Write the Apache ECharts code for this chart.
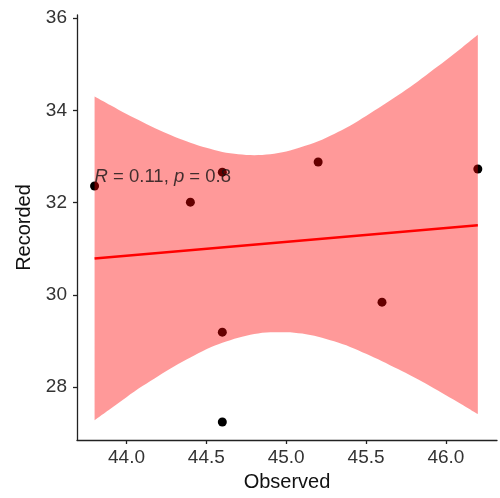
<!DOCTYPE html>
<html>
<head>
<meta charset="utf-8">
<script src="https://cdn.jsdelivr.net/npm/echarts@6/dist/echarts.min.js"></script>
<style>
  html, body { margin: 0; padding: 0; background: #fff; }
  #chart { width: 500px; height: 498px; }
</style>
</head>
<body>
<div id="chart"></div>
<script>
// 观测点
var observed = [43.8, 44.4, 44.6, 44.6, 44.6, 45.2, 45.6, 46.2];
var recorded = [32.36, 32.01, 32.66, 29.19, 27.24, 32.88, 29.84, 32.73];

// 回归线两端
var fitX = [43.8, 46.2];
var fitY = [30.79, 31.51];

// 置信带（从图上读出，每0.1一个点）
var bandX = [43.8, 43.9, 44.0, 44.1, 44.2, 44.3, 44.4, 44.5, 44.6, 44.7, 44.8, 44.9, 45.0,
             45.1, 45.2, 45.3, 45.4, 45.5, 45.6, 45.7, 45.8, 45.9, 46.0, 46.1, 46.2];
var bandLower = [27.28, 27.53, 27.78, 28.02, 28.24, 28.45, 28.64, 28.82, 28.96, 29.07, 29.15, 29.19, 29.19,
                 29.16, 29.09, 28.99, 28.87, 28.72, 28.56, 28.39, 28.21, 28.02, 27.82, 27.62, 27.41];
var bandUpper = [34.30, 34.11, 33.92, 33.75, 33.58, 33.43, 33.30, 33.19, 33.10, 33.05, 33.03, 33.05, 33.11,
                 33.21, 33.33, 33.49, 33.67, 33.88, 34.10, 34.33, 34.57, 34.83, 35.09, 35.36, 35.64];

var xTicks = [44.0, 44.5, 45.0, 45.5, 46.0];
var yTicks = [28, 30, 32, 34, 36];

var corText = ['R = 0.11', 'p = 0.8'];
var corPos = [43.8, 32.55];

var font = 'Liberation Sans, Arial, Helvetica, sans-serif';

// 堆叠时y放在第0维，这样堆的是y而不是x
var lowerData = bandX.map(function (x, i) { return [bandLower[i], x]; });
var widthData = bandX.map(function (x, i) { return [+(bandUpper[i] - bandLower[i]).toFixed(2), x]; });

var option = {
    animation: false,
    textStyle: { fontFamily: font },
    grid: { left: 77, top: 15, width: 420, height: 425 },
    xAxis: {
        type: 'value',
        min: 43.69,
        max: 46.32,
        name: 'Observed',
        nameLocation: 'middle',
        nameGap: 32,
        nameTextStyle: { fontSize: 20, color: '#111', fontFamily: font },
        splitLine: { show: false },
        axisLine: { lineStyle: { color: '#222', width: 1.3 } },
        axisTick: { customValues: xTicks, length: 4, lineStyle: { color: '#222', width: 1.3 } },
        axisLabel: {
            customValues: xTicks,
            fontSize: 19, color: '#333', margin: 8,
            formatter: function (v) { return v.toFixed(1); }
        }
    },
    yAxis: {
        type: 'value',
        min: 26.85,
        max: 36.07,
        name: 'Recorded',
        nameLocation: 'middle',
        nameGap: 38,
        nameTextStyle: { fontSize: 20, color: '#111', fontFamily: font },
        splitLine: { show: false },
        axisLine: { show: true, lineStyle: { color: '#222', width: 1.3 } },
        axisTick: { show: true, customValues: yTicks, length: 4, lineStyle: { color: '#222', width: 1.3 } },
        axisLabel: { customValues: yTicks, fontSize: 19, color: '#333', margin: 10 }
    },
    series: [
        {
            name: 'points',
            type: 'scatter',
            z: 1,
            symbolSize: 9,
            itemStyle: { color: '#000', opacity: 1 },
            data: observed.map(function (x, i) { return [x, recorded[i]]; })
        },
        {
            name: 'lower',
            type: 'line',
            z: 2,
            stack: 'ci',
            smooth: 0.3,
            symbol: 'none',
            encode: { x: 1, y: 0 },
            lineStyle: { opacity: 0 },
            data: lowerData
        },
        {
            name: 'band',
            type: 'line',
            z: 2,
            stack: 'ci',
            smooth: 0.3,
            symbol: 'none',
            encode: { x: 1, y: 0 },
            lineStyle: { opacity: 0 },
            areaStyle: { color: 'rgba(255,0,0,0.4)', opacity: 1 },
            data: widthData
        },
        {
            name: 'fit',
            type: 'line',
            z: 3,
            symbol: 'none',
            lineStyle: { color: '#ff0000', width: 2.5 },
            data: fitX.map(function (x, i) { return [x, fitY[i]]; })
        },
        {
            name: 'cor',
            type: 'scatter',
            z: 5,
            silent: true,
            symbolSize: 0,
            label: {
                show: true,
                position: 'right',
                distance: 0,
                fontSize: 18.5,
                color: '#111',
                formatter: function () {
                    return corText.map(function (t) {
                        return '{i|' + t.charAt(0) + '}' + t.slice(1);
                    }).join(', ');
                },
                rich: { i: { fontStyle: 'italic', fontSize: 18.5, color: '#111' } }
            },
            data: [corPos]
        }
    ]
};

var myChart = echarts.init(document.getElementById('chart'));
myChart.setOption(option);
</script>
</body>
</html>
